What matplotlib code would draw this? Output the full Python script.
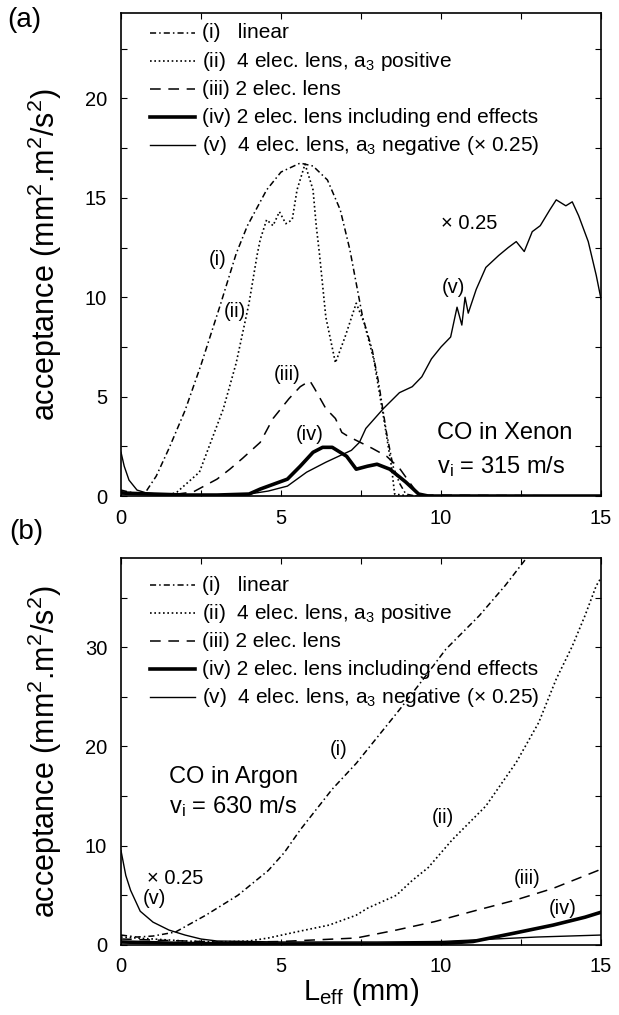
import numpy as np
import matplotlib.pyplot as plt
from matplotlib.ticker import MultipleLocator

plt.rcParams['font.family'] = ['Liberation Sans', 'DejaVu Sans']
plt.rcParams['mathtext.default'] = 'regular'

# ---- panel (a): CO in Xenon, v_i = 315 m/s ----
a_lin_x = [0, 0.5, 0.75, 1.1, 1.5, 2.0, 2.5, 3.1, 3.6, 3.95, 4.55, 5.0, 5.6, 6.0, 6.45, 6.85,
           7.15, 7.55, 7.85, 8.05, 8.3, 8.5, 8.7, 8.9, 9.2, 15]
a_lin_y = [0.3, 0.1, 0.15, 1.0, 2.4, 4.3, 6.6, 9.6, 12.2, 13.6, 15.4, 16.3, 16.75, 16.6, 15.9, 14.4,
           12.4, 9.0, 7.35, 5.7, 3.15, 1.5, 0.65, 0.1, 0.0, 0.0]

a_pos_x = [0, 1.5, 1.75, 2.45, 3.2, 3.6, 4.0, 4.25, 4.35, 4.55, 4.75, 4.95, 5.15, 5.35, 5.5, 5.75,
           6.0, 6.1, 6.2, 6.4, 6.7, 7.0, 7.35, 7.6, 7.9, 8.2, 8.45, 8.55, 9.0, 15]
a_pos_y = [0.2, 0.05, 0.2, 1.2, 4.4, 6.7, 9.7, 12.1, 12.9, 13.9, 13.6, 14.3, 13.7, 13.9, 15.4, 16.7,
           15.4, 13.6, 12.2, 9.0, 6.7, 8.0, 9.7, 8.7, 6.85, 4.0, 1.5, 0.1, 0.0, 0.0]

a_two_x = [0, 1.5, 2.25, 3.0, 3.4, 3.8, 4.35, 4.75, 5.25, 5.6, 5.9, 6.05, 6.4, 6.7, 6.9, 7.1,
           7.85, 8.3, 8.7, 9.1, 9.3, 15]
a_two_y = [0.2, 0.05, 0.2, 0.85, 1.35, 1.9, 2.7, 3.9, 4.9, 5.5, 5.8, 5.4, 4.4, 3.9, 3.2, 3.0,
           2.4, 2.0, 1.4, 0.5, 0.05, 0]

a_end_x = [0, 1, 2, 3, 4.0, 4.35, 5.2, 5.6, 6.0, 6.3, 6.6, 7.05, 7.35, 7.7, 8.0, 8.4, 8.9, 9.3, 9.6, 15]
a_end_y = [0.15, 0.1, 0.05, 0.05, 0.1, 0.35, 0.85, 1.5, 2.2, 2.45, 2.45, 2.0, 1.35, 1.5, 1.6, 1.35,
           0.7, 0.1, 0, 0]

a_neg_x = [0, 0.1, 0.25, 0.5, 0.8, 1.5, 3.0, 4.0, 4.6, 5.2, 5.8, 6.4, 6.8, 7.2, 7.45, 7.65, 8.2,
           8.7, 9.1, 9.4, 9.7, 10.0, 10.3, 10.5, 10.65, 10.75, 10.85, 11.1, 11.4, 11.8, 12.1, 12.35,
           12.6, 12.85, 13.1, 13.4, 13.6, 13.9, 14.1, 14.3, 14.6, 14.85, 15.0]
a_neg_y = [2.2, 1.5, 0.8, 0.3, 0.15, 0.05, 0.05, 0.1, 0.25, 0.5, 1.2, 1.7, 2.0, 2.3, 2.7, 3.4, 4.4,
           5.2, 5.5, 6.0, 6.9, 7.5, 8.0, 9.5, 8.6, 10.0, 9.2, 10.4, 11.5, 12.1, 12.5, 12.8,
           12.3, 13.3, 13.6, 14.4, 14.9, 14.6, 14.8, 14.1, 12.8, 11.1, 9.9]

# ---- panel (b): CO in Argon, v_i = 630 m/s ----
b_lin_x = [0, 0.5, 1.0, 1.7, 2.65, 3.65, 4.6, 5.1, 5.6, 6.6, 7.35, 8.2, 8.7, 9.4, 10.15, 11.2,
           12.0, 12.65, 13.0]
b_lin_y = [1.0, 0.8, 0.9, 1.3, 3.0, 5.0, 7.5, 9.3, 11.6, 15.7, 18.3, 21.7, 23.7, 26.6, 29.8, 33.2,
           36.2, 38.9, 40.2]

b_pos_x = [0, 1, 2, 3, 4, 4.6, 5.6, 6.5, 7.35, 7.7, 8.6, 9.1, 9.6, 10.35, 11.4, 12.35, 13.05,
           13.6, 14.1, 14.5, 14.85, 15.0]
b_pos_y = [0.8, 0.6, 0.4, 0.3, 0.4, 0.7, 1.4, 2.0, 3.0, 3.7, 5.0, 6.5, 7.8, 10.6, 14.0, 18.4, 22.4,
           26.8, 30.1, 33.2, 36.2, 37.0]

b_two_x = [0, 1, 2, 3, 4, 5, 6, 7.35, 8.6, 9.8, 11.0, 12.3, 13.5, 14.9, 15]
b_two_y = [0.6, 0.5, 0.4, 0.3, 0.3, 0.35, 0.5, 0.7, 1.5, 2.35, 3.4, 4.5, 5.7, 7.5, 7.7]

b_end_x = [0, 2, 5, 8, 10, 11.0, 12.3, 13.5, 14.5, 15]
b_end_y = [0.3, 0.15, 0.1, 0.1, 0.15, 0.35, 1.2, 2.0, 2.8, 3.3]

b_neg_x = [0, 0.15, 0.3, 0.6, 1.0, 1.5, 2.0, 2.5, 3.0, 5, 8, 10, 11, 13, 15]
b_neg_y = [9.5, 7.0, 5.5, 3.4, 2.3, 1.5, 1.0, 0.6, 0.4, 0.3, 0.3, 0.35, 0.5, 0.8, 1.0]

legend_labels = ['(i)   linear',
                 '(ii)  4 elec. lens, a$_3$ positive',
                 '(iii) 2 elec. lens',
                 '(iv) 2 elec. lens including end effects',
                 '(v)  4 elec. lens, a$_3$ negative (\u00d7 0.25)']

styles = [dict(ls=(0, (4, 2, 1, 2)), lw=1.1),
          dict(ls=(0, (1, 1.6)), lw=1.2),
          dict(ls=(0, (7, 5)), lw=1.1),
          dict(ls='-', lw=2.6),
          dict(ls='-', lw=1.0)]

fig = plt.figure(figsize=(6.19, 10.15), dpi=100)
ax1 = fig.add_axes([0.1955, 0.5113, 0.7755, 0.4759])
ax2 = fig.add_axes([0.1955, 0.069, 0.7755, 0.3813])

a_curves = [(a_lin_x, a_lin_y), (a_pos_x, a_pos_y), (a_two_x, a_two_y),
            (a_end_x, a_end_y), (a_neg_x, a_neg_y)]
b_curves = [(b_lin_x, b_lin_y), (b_pos_x, b_pos_y), (b_two_x, b_two_y),
            (b_end_x, b_end_y), (b_neg_x, b_neg_y)]

for ax, curves in [(ax1, a_curves), (ax2, b_curves)]:
    for (x, y), st in zip(curves, styles):
        ax.plot(x, y, color='k', **st)

ax1.set_xlim(0, 15)
ax1.set_ylim(0, 24.3)
ax2.set_xlim(0, 15)
ax2.set_ylim(0, 39)

ax1.yaxis.set_major_locator(MultipleLocator(5))
ax1.yaxis.set_minor_locator(MultipleLocator(2.5))
ax2.yaxis.set_major_locator(MultipleLocator(10))
ax2.yaxis.set_minor_locator(MultipleLocator(5))
for ax in (ax1, ax2):
    ax.xaxis.set_major_locator(MultipleLocator(5))
    ax.xaxis.set_minor_locator(MultipleLocator(2.5))
    ax.tick_params(which='both', direction='in', top=True, right=True, length=4.5, width=0.8)
    ax.tick_params(axis='x', labelsize=14.5, pad=9)
    ax.tick_params(axis='y', labelsize=14.5, pad=10)
    for sp in ax.spines.values():
        sp.set_linewidth(1.2)
    ax.set_ylabel('acceptance (mm$^2$.m$^2$/s$^2$)', fontsize=22, va='center')
    ax.yaxis.set_label_coords(-0.158, 0.5)


def draw_legend(ax, y0, dy):
    for k, (lab, st) in enumerate(zip(legend_labels, styles)):
        y = y0 - k * dy
        ax.plot([0.06, 0.154], [y, y], transform=ax.transAxes, color='k', **st)
        ax.text(0.169, y, lab, transform=ax.transAxes, va='center', fontsize=15)


draw_legend(ax1, 0.9586, 0.058)
draw_legend(ax2, 0.930, 0.0724)

# curve labels
a_notes = [('(i)', 3.03, 11.9), ('(ii)', 3.55, 9.3), ('(iii)', 5.18, 6.1),
           ('(iv)', 5.9, 3.1), ('(v)', 10.38, 10.5)]
b_notes = [('(i)', 6.8, 19.7), ('(ii)', 10.07, 12.8), ('(iii)', 12.68, 6.7),
           ('(iv)', 13.8, 3.7), ('(v)', 1.06, 4.7)]
for t, x, y in a_notes:
    ax1.text(x, y, t, ha='center', va='center', fontsize=14.5)
for t, x, y in b_notes:
    ax2.text(x, y, t, ha='center', va='center', fontsize=14.5)

ax1.text(10.0, 13.7, '\u00d7 0.25', ha='left', va='center', fontsize=14.5)
ax2.text(0.8, 6.7, '\u00d7 0.25', ha='left', va='center', fontsize=14.5)
ax1.text(9.87, 3.15, 'CO in Xenon', ha='left', va='center', fontsize=17)
ax1.text(9.87, 1.5, 'v$_i$ = 315 m/s', ha='left', va='center', fontsize=17)
ax2.text(1.5, 16.9, 'CO in Argon', ha='left', va='center', fontsize=17)
ax2.text(1.5, 13.9, 'v$_i$ = 630 m/s', ha='left', va='center', fontsize=17)

ax2.set_xlabel('L$_{eff}$ (mm)', fontsize=21, labelpad=0)

fig.text(0.040, 0.98, '(a)', fontsize=20, ha='center', va='center')
fig.text(0.042, 0.476, '(b)', fontsize=20, ha='center', va='center')

fig.savefig('out.png', dpi=100)
